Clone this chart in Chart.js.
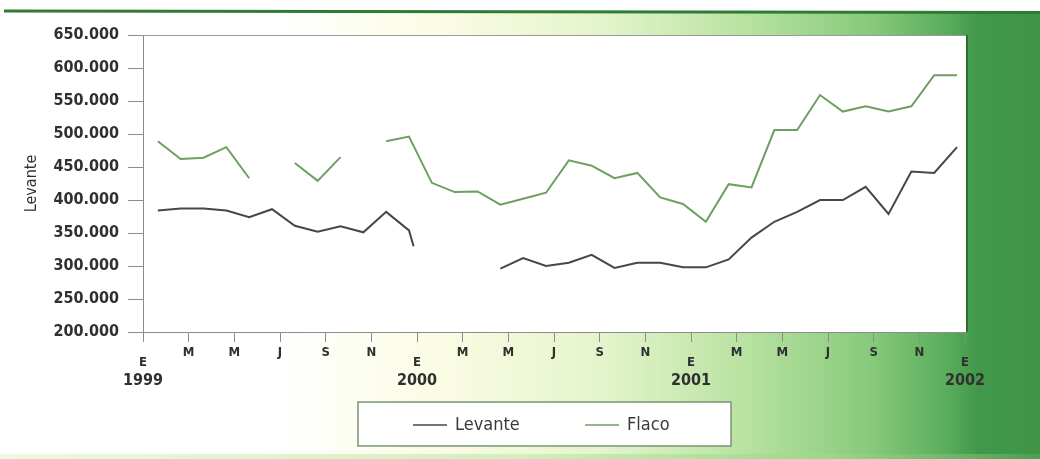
<!DOCTYPE html>
<html><head><meta charset="utf-8">
<script src="https://cdn.jsdelivr.net/npm/chart.js@4/dist/chart.umd.min.js"></script>
<style>html,body{margin:0;padding:0;background:#fff;} canvas{display:block;}</style>
</head><body>
<canvas id="c" width="1040" height="459"></canvas>
<script>
// ---- data ----
const monthLetters = ['E', 'M', 'M', 'J', 'S', 'N'];       // tick every two months
const years = ['1999', '2000', '2001', '2002'];
const yTickValues = [200000, 250000, 300000, 350000, 400000, 450000, 500000, 550000, 600000, 650000];
// monthly values, January 1999 .. December 2001 (null = no data)
const levante = [384000, 387000, 387000, 384000, 374000, 386000, 361000, 352000, 360000, 351000, 382000, 354000,
                 null, null, null, 296000, 312000, 300000, 305000, 317000, 297000, 305000, 305000, 298000,
                 298000, 310000, 343000, 367000, 382000, 400000, 400000, 420000, 379000, 443000, 441000, 480000];
const flaco = [489000, 462000, 464000, 480000, 433000, null, 456000, 429000, 465000, null, 489000, 496000,
               426000, 412000, 413000, 393000, 402000, 411000, 460000, 452000, 433000, 441000, 404000, 394000,
               367000, 424000, 419000, 506000, 506000, 559000, 534000, 542000, 534000, 542000, 589000, 589000];
const levanteEndDrop = { month: 11.2, value: 330000 };  // short drop at the end of the first Levante segment

// ---- styling ----
const POINT_OFFSET = 0.65;
const FONT = "'DejaVu Sans Condensed','DejaVu Sans',sans-serif";
const LEVANTE_COLOR = '#474747';
const FLACO_COLOR = '#6e9f62';
const AXIS_COLOR = '#8c8c8c';
const TEXT_COLOR = '#303030';

function toPoints(values) {
  return values.map((v, i) => ({ x: i + POINT_OFFSET, y: v }));
}
const levantePts = toPoints(levante);
levantePts.splice(12, 0, { x: levanteEndDrop.month + POINT_OFFSET, y: levanteEndDrop.value });

const fmtThousands = v => Math.round(v / 1000) + '.000';

const decor = {
  id: 'decor',
  beforeDraw(chart) {
    const { ctx, width, height, chartArea: a } = chart;
    ctx.save();
    const g = ctx.createLinearGradient(0, 0, width, 0);
    g.addColorStop(0, '#ffffff');
    g.addColorStop(0.27, '#ffffff');
    g.addColorStop(0.42, '#fbfce4');
    g.addColorStop(0.58, '#e4f4cc');
    g.addColorStop(0.72, '#b7e2a0');
    g.addColorStop(0.84, '#86c97a');
    g.addColorStop(0.91, '#5aad5c');
    g.addColorStop(0.94, '#42984a');
    g.addColorStop(1, '#3f9448');
    ctx.fillStyle = g;
    ctx.fillRect(0, 12, width, height - 12);
    ctx.fillStyle = '#ffffff';
    ctx.fillRect(0, 0, width, 12);
    // light band along the bottom
    const gb = ctx.createLinearGradient(0, 0, width, 0);
    gb.addColorStop(0, '#eef8e2');
    gb.addColorStop(0.5, '#d2efbc');
    gb.addColorStop(0.8, '#9dd68b');
    gb.addColorStop(1, '#4c9e52');
    ctx.fillStyle = gb;
    ctx.fillRect(0, height - 5, width, 5);
    // top rule
    ctx.strokeStyle = '#2f7b36';
    ctx.lineWidth = 3;
    ctx.beginPath(); ctx.moveTo(4, 11); ctx.lineTo(width, 12.5); ctx.stroke();
    // plot box
    ctx.fillStyle = '#ffffff';
    ctx.fillRect(a.left, a.top, a.right - a.left + 1, a.bottom - a.top);
    ctx.restore();
  },
  afterDraw(chart) {
    const { ctx, chartArea: a } = chart;
    ctx.save();
    ctx.lineWidth = 1;
    ctx.strokeStyle = '#9a9a9a';
    ctx.beginPath(); ctx.moveTo(a.left, a.top + 0.5); ctx.lineTo(a.right + 2, a.top + 0.5); ctx.stroke();
    ctx.strokeStyle = '#2e6e34';
    ctx.lineWidth = 2;
    ctx.beginPath(); ctx.moveTo(a.right + 2, a.top); ctx.lineTo(a.right + 2, a.bottom); ctx.stroke();
    // legend
    const box = { left: 358, top: 402, right: 731, bottom: 446 };
    ctx.fillStyle = '#ffffff';
    ctx.fillRect(box.left, box.top, box.right - box.left, box.bottom - box.top);
    ctx.strokeStyle = '#7a9471';
    ctx.lineWidth = 1.5;
    ctx.strokeRect(box.left, box.top, box.right - box.left, box.bottom - box.top);
    const cy = (box.top + box.bottom) / 2 + 1;
    const starts = [413, 585];
    ctx.font = '18px ' + FONT;
    ctx.textBaseline = 'middle';
    ctx.textAlign = 'left';
    chart.data.datasets.forEach((ds, i) => {
      const x0 = starts[i];
      ctx.strokeStyle = ds.borderColor;
      ctx.lineWidth = 1.5;
      ctx.beginPath(); ctx.moveTo(x0, cy); ctx.lineTo(x0 + 34, cy); ctx.stroke();
      ctx.fillStyle = '#3a3a3a';
      ctx.fillText(ds.label, x0 + 42, cy);
    });
    ctx.restore();
  }
};

new Chart(document.getElementById('c'), {
  type: 'line',
  data: {
    datasets: [
      { label: 'Levante', data: levantePts, borderColor: LEVANTE_COLOR, borderWidth: 2, pointRadius: 0, tension: 0, spanGaps: false },
      { label: 'Flaco', data: toPoints(flaco), borderColor: FLACO_COLOR, borderWidth: 2, pointRadius: 0, tension: 0, spanGaps: false }
    ]
  },
  options: {
    responsive: false,
    animation: false,
    devicePixelRatio: 1,
    layout: { padding: { left: 0, right: 75, top: 35, bottom: 66 } },
    plugins: { legend: { display: false }, tooltip: { enabled: false } },
    scales: {
      x: {
        type: 'linear', position: 'bottom', weight: 0, min: 0, max: 36,
        ticks: {
          stepSize: 2, autoSkip: false, maxRotation: 0, padding: 6, color: TEXT_COLOR,
          font: { family: FONT, size: 13, weight: 'bold', lineHeight: '10px' },
          callback: v => { const m = v % 12; const L = monthLetters[m / 2]; return m === 0 ? ['', L] : L; }
        },
        grid: { drawOnChartArea: false, tickLength: 10, color: AXIS_COLOR, lineWidth: 1 },
        border: { color: AXIS_COLOR, width: 1 },
        afterFit: s => { s.height = 36; }
      },
      x2: {
        type: 'linear', position: 'bottom', weight: 1, min: 0, max: 36,
        ticks: {
          stepSize: 12, autoSkip: false, maxRotation: 0, padding: 3, color: TEXT_COLOR,
          font: { family: FONT, size: 16, weight: 'bold' },
          callback: v => years[v / 12]
        },
        grid: { display: false, drawTicks: false },
        border: { display: false },
        afterFit: s => { s.height = 25; }
      },
      y: {
        min: 200000, max: 650000,
        afterBuildTicks: s => { s.ticks = yTickValues.map(v => ({ value: v })); },
        ticks: { padding: 9, color: TEXT_COLOR, font: { family: FONT, size: 16, weight: 'bold' }, callback: v => fmtThousands(v) },
        grid: { drawOnChartArea: false, tickLength: 15, color: AXIS_COLOR, lineWidth: 1 },
        border: { color: AXIS_COLOR, width: 1 },
        title: { display: true, text: 'Levante', color: TEXT_COLOR, font: { family: FONT, size: 16 }, padding: { top: 22, bottom: 0 } },
        afterFit: s => { s.width = 143; }
      }
    }
  },
  plugins: [decor]
});
</script>
</body></html>
